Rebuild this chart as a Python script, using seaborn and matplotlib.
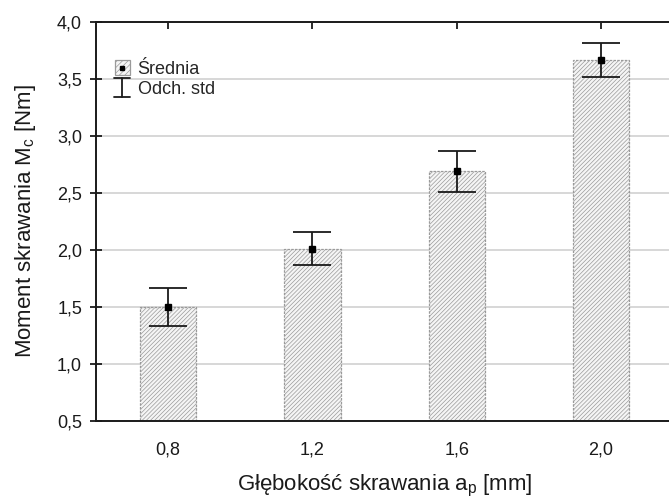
import matplotlib
matplotlib.use("Agg")
import matplotlib.pyplot as plt
import seaborn as sns
import pandas as pd
import numpy as np
from matplotlib.patches import Patch, Rectangle
from matplotlib.lines import Line2D
from matplotlib.legend_handler import HandlerBase
from matplotlib.ticker import FuncFormatter

categories = ["0,8", "1,2", "1,6", "2,0"]
means = [1.50, 2.01, 2.69, 3.67]
stds = [0.17, 0.145, 0.18, 0.15]
yticks = [0.5, 1.0, 1.5, 2.0, 2.5, 3.0, 3.5, 4.0]

sns.set_theme(style="white")
plt.rcParams['font.family'] = ['Liberation Sans', 'DejaVu Sans']
plt.rcParams['hatch.linewidth'] = 0.5
plt.rcParams['hatch.color'] = '#b0b0b0'

DARK = '#1a1a1a'
EDGE = '#9a9a9a'
FACE = '#f5f5f5'
HATCH = '////////'

fig = plt.figure(figsize=(6.69, 5.0), dpi=100)
ax = fig.add_axes([0.1435, 0.158, 0.8625, 0.798])

df = pd.DataFrame({"ap": categories, "Mc": means})
sns.barplot(data=df, x="ap", y="Mc", ax=ax, width=0.39, color=FACE,
            edgecolor=EDGE, linewidth=0.9, zorder=2)
for p in ax.patches:
    p.set_hatch(HATCH)
    p.set_facecolor(FACE)
    p.set_linestyle((0, (2, 1)))

pos = np.arange(len(categories))
ax.errorbar(pos, means, yerr=stds, fmt='none', ecolor=DARK, elinewidth=1.3,
            capsize=14, capthick=1.3, zorder=4)
ax.plot(pos, means, ls='none', marker='s', ms=4, color='black', zorder=5)

ax.set_ylim(0.5, 4.0)
ax.set_xlim(-0.5, 3.5)
ax.set_yticks(yticks)
ax.yaxis.set_major_formatter(FuncFormatter(lambda v, _: f"{v:.1f}".replace(".", ",")))
ax.grid(axis='y', color='#d4d4d4', linewidth=1.3, zorder=0)
ax.set_axisbelow(True)

for s in ax.spines.values():
    s.set_color(DARK)
    s.set_linewidth(1.4)

ax.tick_params(axis='y', direction='inout', length=8, width=1.3, left=True, labelsize=13, colors=DARK, pad=6)
ax.xaxis.set_ticks_position('both')
ax.tick_params(axis='x', direction='in', length=5, width=1.3, labelsize=13, colors=DARK, pad=15)
ax.tick_params(axis='x', labeltop=False)

ax.set_xlabel("Głębokość skrawania a$_\\mathregular{p}$ [mm]", fontsize=16, labelpad=10, color=DARK)
ax.set_ylabel("Moment skrawania M$_\\mathregular{c}$ [Nm]", fontsize=16, labelpad=14, color=DARK)


class MeanHandler(HandlerBase):
    def create_artists(self, legend, orig_handle, xdescent, ydescent, width, height, fontsize, trans):
        s = min(width, height) * 1.0
        x0 = (width - s) / 2 - xdescent
        y0 = (height - s) / 2 - ydescent
        r = Rectangle((x0, y0), s, s, facecolor=FACE, edgecolor=EDGE, hatch='//////', lw=0.9, transform=trans)
        m = Line2D([x0 + s / 2], [y0 + s / 2], ls='none', marker='s', ms=2.5, color='black', transform=trans)
        return [r, m]


class StdHandler(HandlerBase):
    def create_artists(self, legend, orig_handle, xdescent, ydescent, width, height, fontsize, trans):
        cx = width / 2 - xdescent
        h = height * 1.3
        y0 = (height - h) / 2 - ydescent
        y1 = y0 + h
        half = width * 0.5
        v = Line2D([cx, cx], [y0, y1], color=DARK, lw=1.3, transform=trans)
        t = Line2D([cx - half, cx + half], [y1, y1], color=DARK, lw=1.3, transform=trans)
        b = Line2D([cx - half, cx + half], [y0, y0], color=DARK, lw=1.3, transform=trans)
        return [v, t, b]


hm = Patch()
hs = Line2D([], [])
ax.legend([hm, hs], ["Średnia", "Odch. std"], handler_map={Patch: MeanHandler(), Line2D: StdHandler()},
          loc='upper left', bbox_to_anchor=(-0.006, 0.958), frameon=False, fontsize=13,
          handlelength=0.9, handleheight=0.9, handletextpad=0.4, labelspacing=0.1, borderaxespad=0.8)

fig.savefig("out.png", dpi=100)
